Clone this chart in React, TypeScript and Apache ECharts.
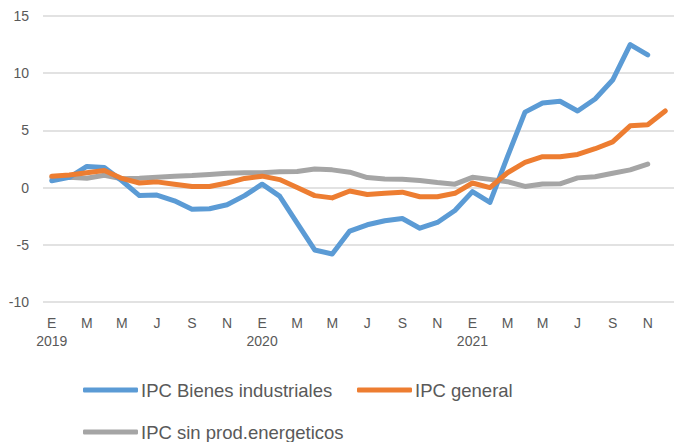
import React, { useEffect, useRef } from "react";
import * as echarts from "echarts";

const years = ["2019", "2020", "2021"];
const monthLetters = ["E", "F", "M", "A", "M", "J", "J", "A", "S", "O", "N", "D"];

// IPC Bienes industriales (ends Nov 2021)
const bienesIndustriales = [
  0.6, 0.9, 1.85, 1.75, 0.6, -0.7, -0.65, -1.15, -1.9,
  -1.85, -1.5, -0.7, 0.3, -0.75, -3.1, -5.45, -5.8, -3.8,
  -3.25, -2.9, -2.7, -3.55, -3.05, -2.0, -0.35, -1.3, 2.7,
  6.6, 7.4, 7.55, 6.7, 7.75, 9.4, 12.5, 11.6,
];

// IPC general (ends Dec 2021)
const ipcGeneral = [
  1.0, 1.1, 1.3, 1.5, 0.8, 0.4, 0.5, 0.3, 0.1, 0.1, 0.4, 0.8,
  1.0, 0.7, 0.0, -0.7, -0.9, -0.3, -0.6, -0.5, -0.4, -0.8, -0.8, -0.5,
  0.4, 0.0, 1.3, 2.2, 2.7, 2.7, 2.9, 3.4, 4.0, 5.4, 5.5, 6.7,
];

// IPC sin prod.energeticos (ends Nov 2021)
const sinEnergeticos = [
  0.88, 0.9, 0.82, 1.08, 0.78, 0.82, 0.9, 1.0, 1.05, 1.15, 1.26, 1.3,
  1.3, 1.38, 1.4, 1.62, 1.55, 1.35, 0.88, 0.75, 0.74, 0.62, 0.44, 0.3,
  0.9, 0.72, 0.52, 0.1, 0.32, 0.33, 0.85, 0.95, 1.25, 1.55, 2.05,
];

const yTicks = { min: -10, max: 15, interval: 5 };

const categories: string[] = [];
years.forEach((y) => monthLetters.forEach((m, i) => categories.push(`${y}-${i}`)));

const textColor = "#595959";
const gridColor = "#D9D9D9";
const fontFamily = "'Liberation Sans', Arial, sans-serif";

export default function App() {
  const ref = useRef<HTMLDivElement>(null);
  useEffect(() => {
    if (!ref.current) return;
    const chart = echarts.init(ref.current, undefined, { renderer: "svg" });
    const legendCommon = {
      icon: "roundRect",
      itemWidth: 55,
      itemHeight: 5,
      itemGap: 0,
      padding: 0,
      selectedMode: false,
      textStyle: { color: textColor, fontSize: 18.5, fontFamily, lineHeight: 20, padding: [0, 0, 0, -2] },
    };
    chart.setOption({
      animation: false,
      backgroundColor: "#ffffff",
      grid: { left: 43, top: 16, width: 639, height: 286 },
      legend: [
        { ...legendCommon, left: 83, top: 380, data: ["IPC Bienes industriales"] },
        { ...legendCommon, left: 357, top: 380, data: ["IPC general"] },
        { ...legendCommon, left: 83, top: 422, data: ["IPC sin prod.energeticos"] },
      ],
      xAxis: {
        type: "category",
        data: categories,
        boundaryGap: true,
        axisLine: { show: false },
        axisTick: { show: false },
        axisLabel: {
          interval: 1,
          margin: 12,
          color: textColor,
          fontSize: 14,
          fontFamily,
          lineHeight: 18,
          formatter: (value: string, index: number) => {
            const [y, m] = value.split("-");
            const letter = monthLetters[Number(m)];
            return index % 12 === 0 ? `${letter}\n${y}` : letter;
          },
        },
      },
      yAxis: {
        type: "value",
        min: yTicks.min,
        max: yTicks.max,
        interval: yTicks.interval,
        axisLine: { show: false },
        axisTick: { show: false },
        axisLabel: { color: textColor, fontSize: 14, fontFamily, margin: 14 },
        splitLine: { lineStyle: { color: gridColor, width: 1.5 } },
      },
      series: [
        {
          name: "IPC Bienes industriales",
          type: "line",
          data: bienesIndustriales,
          showSymbol: false,
          symbol: "none",
          color: "#5B9BD5",
          lineStyle: { width: 5, color: "#5B9BD5", cap: "round", join: "round" },
          z: 3,
        },
        {
          name: "IPC general",
          type: "line",
          data: ipcGeneral,
          showSymbol: false,
          symbol: "none",
          color: "#ED7D31",
          lineStyle: { width: 5, color: "#ED7D31", cap: "round", join: "round" },
          z: 4,
        },
        {
          name: "IPC sin prod.energeticos",
          type: "line",
          data: sinEnergeticos,
          showSymbol: false,
          symbol: "none",
          color: "#A5A5A5",
          lineStyle: { width: 5, color: "#A5A5A5", cap: "round", join: "round" },
          z: 2,
        },
      ],
    });
    return () => chart.dispose();
  }, []);
  return (
    <div
      ref={ref}
      style={{ position: "fixed", left: 0, top: 0, width: 674, height: 442, background: "#fff" }}
    />
  );
}
